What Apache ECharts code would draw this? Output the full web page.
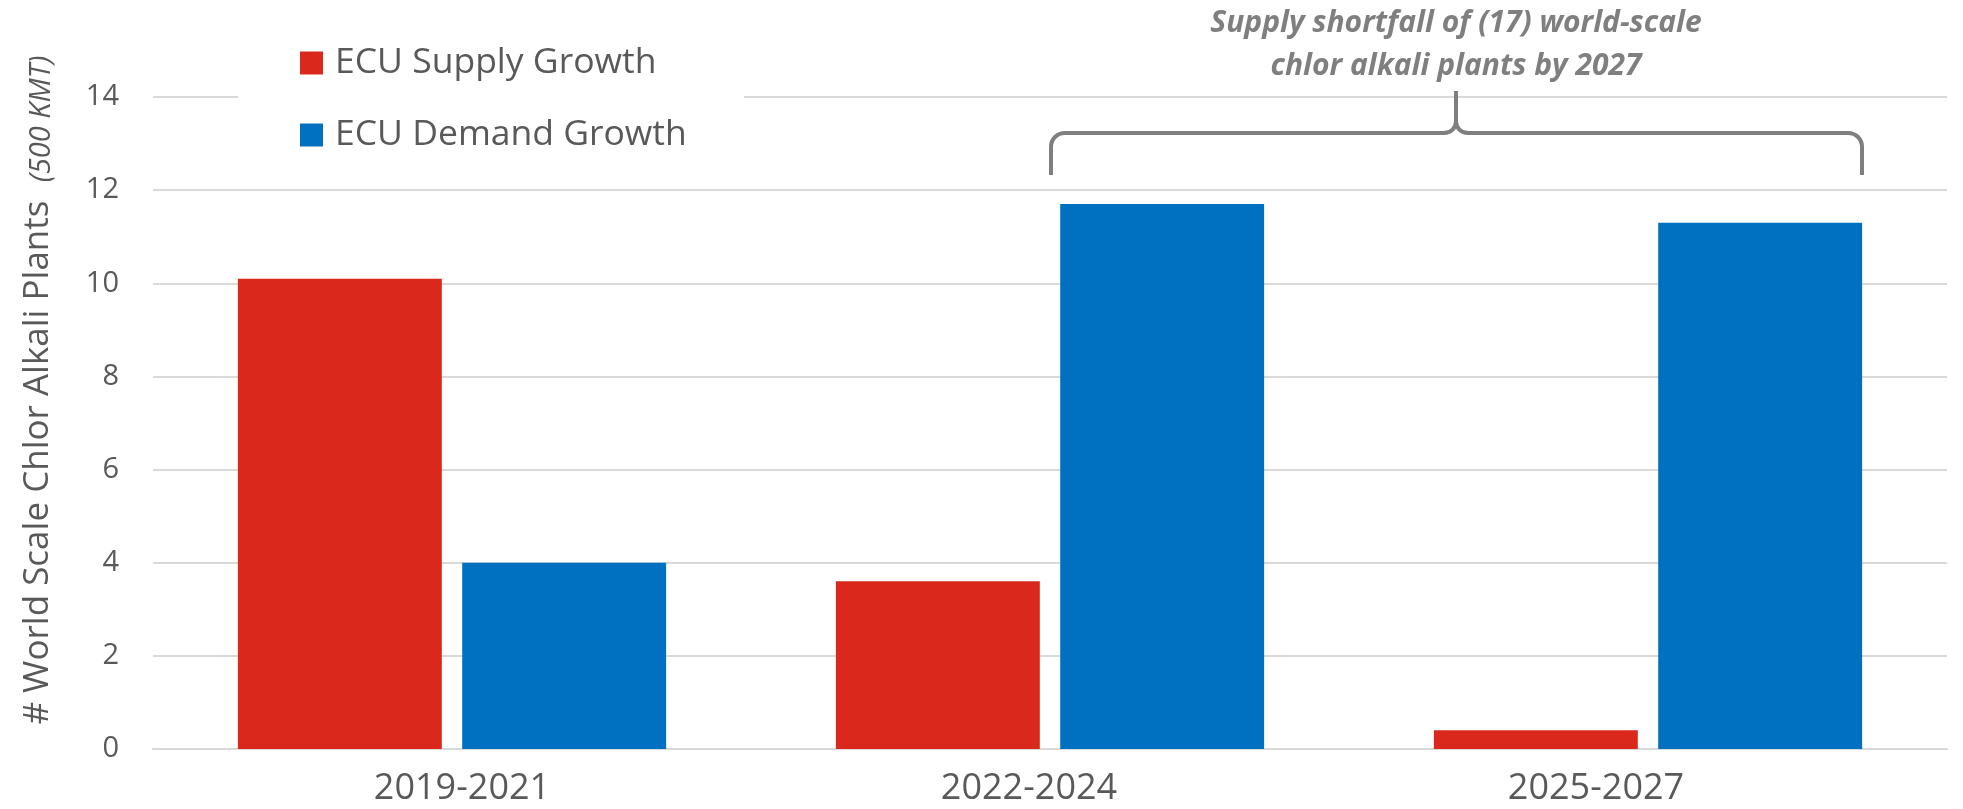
<!DOCTYPE html>
<html>
<head>
<meta charset="utf-8">
<script src="https://cdn.jsdelivr.net/npm/echarts@6/dist/echarts.min.js"></script>
<style>
  html, body { margin: 0; padding: 0; background: #ffffff; }
  #chart { width: 1963px; height: 809px; }
</style>
</head>
<body>
<div id="chart"></div>
<script>
// Periods on the category axis
const periods = ['2019-2021', '2022-2024', '2025-2027'];
// Capacity growth, in world-scale chlor alkali plants (500 KMT each)
const supplyGrowth = [10.1, 3.6, 0.4];
const demandGrowth = [4.0, 11.7, 11.3];
// Value-axis ticks
const yTicks = [0, 2, 4, 6, 8, 10, 12, 14];
// Text
const seriesNames = ['ECU Supply Growth', 'ECU Demand Growth'];
const axisTitle = '# World Scale Chlor Alkali Plants';
const axisUnit = '(500 KMT)';
const noteLines = ['Supply shortfall of (17) world-scale', 'chlor alkali plants by 2027'];

const FONT = "'Open Sans', 'Noto Sans', sans-serif";
const TEXT_GREY = '#595959';
const NOTE_GREY = '#7f7f7f';
const GRID_GREY = '#d9d9d9';
const RED = '#da291c';
const BLUE = '#0070c0';

// horizontal nudge (px) of each period label under its bar pair
const labelShift = [10, -21, -52];

const chart = echarts.init(document.getElementById('chart'), null, { renderer: 'canvas' });

const categoryData = periods.map((p, i) => {
  const s = labelShift[i];
  return {
    value: p,
    textStyle: { padding: s >= 0 ? [0, 0, 0, 2 * s] : [0, -2 * s, 0, 0] }
  };
});

// bracket pieces: straight runs and rounded corners
const braceStyle = { stroke: NOTE_GREY, lineWidth: 4, lineCap: 'butt', fill: null };
function seg(x1, y1, x2, y2) {
  return { type: 'line', shape: { x1, y1, x2, y2 }, style: braceStyle, z: 10 };
}
function curve(x1, y1, cpx1, cpy1, cpx2, cpy2, x2, y2) {
  return { type: 'bezierCurve', shape: { x1, y1, cpx1, cpy1, cpx2, cpy2, x2, y2 }, style: braceStyle, z: 10 };
}
const brace = [
  seg(1051, 175, 1051, 147),
  curve(1051, 147, 1051, 139, 1057, 133, 1065, 133),
  seg(1065, 133, 1444, 133),
  curve(1444, 133, 1451, 133, 1456, 128, 1456, 121),
  seg(1456, 121, 1456, 91),
  curve(1456, 121, 1456, 128, 1461, 133, 1468, 133),
  seg(1468, 133, 1848, 133),
  curve(1848, 133, 1856, 133, 1862, 139, 1862, 147),
  seg(1862, 147, 1862, 175)
];

const option = {
  backgroundColor: '#ffffff',
  animation: false,
  grid: { left: 153, right: 16, top: 97, bottom: 60, containLabel: false },
  legend: {
    orient: 'vertical',
    left: 238,
    top: 25,
    padding: [20, 57, 20, 62],
    backgroundColor: '#ffffff',
    itemWidth: 23,
    itemHeight: 23,
    itemGap: 36,
    icon: 'rect',
    selectedMode: false,
    textStyle: { fontFamily: FONT, fontSize: 35.5, color: TEXT_GREY, lineHeight: 35, padding: [0, 0, 0, 7] },
    data: seriesNames
  },
  xAxis: {
    type: 'category',
    data: categoryData,
    axisLine: { show: true, lineStyle: { color: GRID_GREY, width: 2 } },
    axisTick: { show: false },
    axisLabel: { fontFamily: FONT, fontSize: 36, color: TEXT_GREY, margin: 22 }
  },
  yAxis: {
    type: 'value',
    min: yTicks[0],
    max: yTicks[yTicks.length - 1],
    interval: yTicks[1] - yTicks[0],
    axisLine: { show: false },
    axisTick: { show: false },
    axisLabel: { fontFamily: FONT, fontSize: 29, color: TEXT_GREY, margin: 34 },
    splitLine: { lineStyle: { color: GRID_GREY, width: 2 } }
  },
  series: [
    {
      name: seriesNames[0],
      type: 'bar',
      data: supplyGrowth,
      barWidth: '34.1%',
      barGap: '10%',
      itemStyle: { color: RED }
    },
    {
      name: seriesNames[1],
      type: 'bar',
      data: demandGrowth,
      barWidth: '34.1%',
      barGap: '10%',
      itemStyle: { color: BLUE }
    }
  ],
  graphic: [
    {
      // rotated value-axis title with smaller italic unit
      type: 'text',
      x: 35,
      y: 390,
      rotation: Math.PI / 2,
      style: {
        text: '{a|' + axisTitle + '}{a|  }{b|' + axisUnit + '}',
        align: 'center',
        verticalAlign: 'middle',
        rich: {
          a: { fontFamily: FONT, fontSize: 35, fill: TEXT_GREY, verticalAlign: 'bottom', lineHeight: 42 },
          b: { fontFamily: FONT, fontSize: 29, fontStyle: 'italic', fill: TEXT_GREY, verticalAlign: 'bottom', lineHeight: 42 }
        }
      }
    }
  ].concat(brace).concat([
    {
      type: 'text',
      x: 1456,
      y: 2,
      style: {
        text: noteLines.join('\n'),
        fontFamily: FONT,
        fontSize: 30,
        fontWeight: 'bold',
        fontStyle: 'italic',
        fill: NOTE_GREY,
        align: 'center',
        verticalAlign: 'top',
        lineHeight: 43
      },
      z: 10
    }
  ])
};

chart.setOption(option);
</script>
</body>
</html>
